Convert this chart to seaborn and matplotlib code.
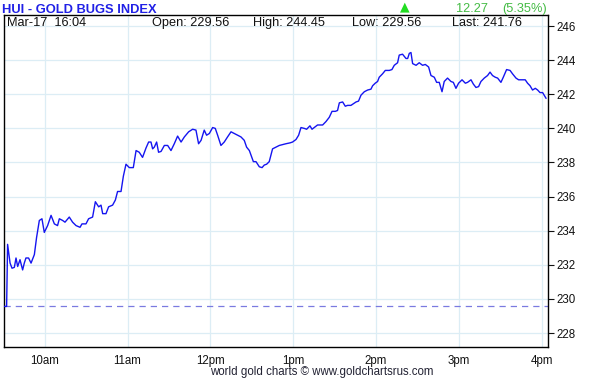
import matplotlib
matplotlib.use("Agg")
import matplotlib.pyplot as plt
import seaborn as sns
import pandas as pd

# minutes after 9:30 open, index value
minutes = [0, 2.4, 3.1, 4.9, 6.3, 8.0, 9.2, 10.4, 12.1, 14.0, 15.2, 16.4, 18.3, 20.1,
           22.5, 24.1, 26.1, 28.0, 29.7, 32.1, 34.6, 37.0, 39.3, 40.6, 43.0, 44.7,
           47.8, 50.2, 52.7, 55.6, 57.0, 59.9, 61.8, 64.7, 66.7, 69.1, 70.8, 72.0,
           74.4, 76.3, 79.2, 81.2, 82.8, 85.3, 87.0, 88.9, 91.3, 94.2, 96.2, 98.5,
           100.9, 103.4, 105.3, 107.0, 108.2, 109.4, 111.1, 112.5, 114.3, 116.7,
           119.1, 121.5, 123.9, 126.3, 128.8, 131.2, 134.3, 137.2, 139.6, 141.5,
           143.3, 145.6, 147.3, 149.3, 151.7, 153.6, 155.3, 157.7, 160.1, 162.5,
           165.0, 167.4, 169.8, 172.2, 174.6, 176.3, 178.3, 181.2, 183.1, 185.5,
           187.5, 189.1, 190.8, 192.7, 195.1, 197.6, 200.0, 202.4, 204.8, 207.7,
           209.6, 212.1, 214.0, 215.7, 218.1, 219.8, 222.2, 223.7, 225.3, 227.7,
           231.4, 233.8, 236.2, 238.2, 240.6, 242.2, 243.5, 245.9, 247.8, 249.5,
           251.9, 255.6, 257.4, 259.2, 261.6, 264.0, 266.4, 267.6, 269.5, 271.2,
           272.4, 274.8, 276.8, 279.7, 281.6, 283.3, 285.7, 286.9, 289.3, 291.8,
           293.0, 294.2, 295.4, 296.6, 299.1, 301.4, 303.8, 305.8, 308.2, 309.9,
           312.3, 314.0, 315.9, 317.9, 319.5, 321.9, 324.4, 326.1, 328.0, 329.9,
           332.4, 334.8, 336.4, 338.9, 340.6, 342.5, 344.4, 346.1, 348.5, 350.9,
           352.7, 354.5, 356.5, 358.2, 360.6, 362.3, 364.7, 367.2, 369.0, 371.5,
           373.4, 375.8, 378.2, 379.9, 381.7, 383.5, 385.5, 387.2, 388.9, 390.8, 393.3]
prices = [229.56, 229.56, 233.2, 232.1, 231.8, 231.85, 232.4, 231.9, 232.3, 231.7,
          232.1, 232.4, 232.4, 232.1, 232.6, 233.6, 234.6, 234.7, 233.9, 234.3,
          234.9, 234.4, 234.3, 234.7, 234.6, 234.5, 234.8, 234.5, 234.3, 234.2,
          234.4, 234.4, 234.7, 234.8, 235.7, 235.4, 235.5, 235.0, 235.0, 235.4,
          235.5, 235.8, 236.3, 236.3, 237.2, 237.9, 237.7, 237.7, 238.7, 238.6,
          238.3, 238.85, 239.2, 239.2, 238.8, 238.9, 239.2, 238.6, 238.65, 239.0,
          239.0, 238.7, 239.1, 239.55, 239.2, 239.5, 239.8, 239.95, 239.9, 239.1,
          239.3, 239.9, 239.6, 239.7, 240.05, 240.0, 239.6, 239.0, 239.2, 239.5,
          239.8, 239.7, 239.6, 239.5, 239.3, 238.9, 238.7, 238.05, 238.05, 237.75,
          237.7, 237.85, 237.9, 238.05, 238.8, 238.9, 239.0, 239.05, 239.1, 239.15,
          239.2, 239.35, 239.6, 240.05, 240.0, 239.95, 240.15, 239.95, 240.05, 240.2,
          240.2, 240.4, 240.65, 241.0, 241.0, 241.05, 241.5, 241.55, 241.3, 241.35,
          241.35, 241.55, 241.6, 241.95, 242.15, 242.25, 242.3, 242.5, 242.65, 242.75,
          243.0, 243.2, 243.4, 243.4, 243.45, 243.7, 243.85, 244.3, 244.35, 244.1,
          244.1, 244.4, 244.45, 243.8, 243.7, 243.85, 243.7, 243.75, 243.6, 243.1,
          243.0, 242.7, 242.7, 242.15, 242.75, 242.95, 242.75, 242.7, 242.35, 242.65,
          242.85, 242.65, 242.7, 242.85, 242.6, 242.4, 242.45, 242.75, 242.95, 243.1,
          243.3, 243.1, 243.0, 242.95, 242.7, 243.0, 243.45, 243.4, 243.2, 242.95,
          242.85, 242.85, 242.85, 242.65, 242.5, 242.25, 242.35, 242.25, 242.1, 242.1, 241.76]

open_price = 229.56
hour_ticks = [30, 90, 150, 210, 270, 330, 390]
hour_labels = ["10am", "11am", "12pm", "1pm", "2pm", "3pm", "4pm"]
y_ticks = [228, 230, 232, 234, 236, 238, 240, 242, 244, 246]

sns.set_style("white")
plt.rcParams['font.family'] = ['Liberation Sans', 'DejaVu Sans']

df = pd.DataFrame({"minute": minutes, "price": prices})

fig = plt.figure(figsize=(5.96, 3.78), dpi=100)
ax = fig.add_axes([4 / 596, 31 / 378, 544 / 596, 332 / 378])

ax.axhline(open_price, color="#7a7ae0", lw=0.9, ls=(0, (5, 4)), zorder=1)
sns.lineplot(data=df, x="minute", y="price", estimator=None, color="#1515f0",
             lw=1.0, ax=ax, zorder=3)

ax.set_xlim(0.5, 394.7)
ax.set_ylim(227.18, 246.65)
ax.set_xticks(hour_ticks)
ax.set_xticklabels(hour_labels)
ax.set_yticks(y_ticks)
ax.yaxis.tick_right()
ax.grid(True, color="#dcedf5", lw=0.9, zorder=0)
ax.set_axisbelow(True)
ax.set_xlabel("")
ax.set_ylabel("")
ax.tick_params(axis="both", direction="out", length=4, width=0.8, colors="#111111",
               labelsize=8.3, pad=2)
ax.tick_params(axis="x", pad=1.5)
for s in ax.spines.values():
    s.set_color("black")
    s.set_linewidth(1.0)

# header texts
fig.text(2 / 596, 1 - 10 / 378, "HUI - GOLD BUGS INDEX", color="#2020e6",
         fontsize=9.3, fontweight="bold", va="center", ha="left")
row_y = 1 - 23 / 378
fig.text(7 / 596, row_y, "Mar-17  16:04", fontsize=9.2, va="center", color="#111111")
fig.text(152 / 596, row_y, "Open: 229.56", fontsize=9.2, va="center", color="#111111")
fig.text(253 / 596, row_y, "High: 244.45", fontsize=9.2, va="center", color="#111111")
fig.text(352 / 596, row_y, "Low: 229.56", fontsize=9.2, va="center", color="#111111")
fig.text(452 / 596, row_y, "Last: 241.76", fontsize=9.2, va="center", color="#111111")

fig.text(405 / 596, 1 - 7 / 378, "\u25B2", color="#22dd22", fontsize=9,
         va="center", ha="center", family=["DejaVu Sans"])
fig.text(456 / 596, 1 - 9 / 378, "12.27", color="#44bb44", fontsize=9.2, va="center")
fig.text(502 / 596, 1 - 9 / 378, "(5.35%)", color="#44bb44", fontsize=9.2, va="center")

fig.text(322 / 596, 1 - 372 / 378, "world gold charts \u00a9 www.goldchartsrus.com",
         fontsize=8.3, color="#222233", ha="center", va="center")

fig.savefig("out.png", dpi=100)
